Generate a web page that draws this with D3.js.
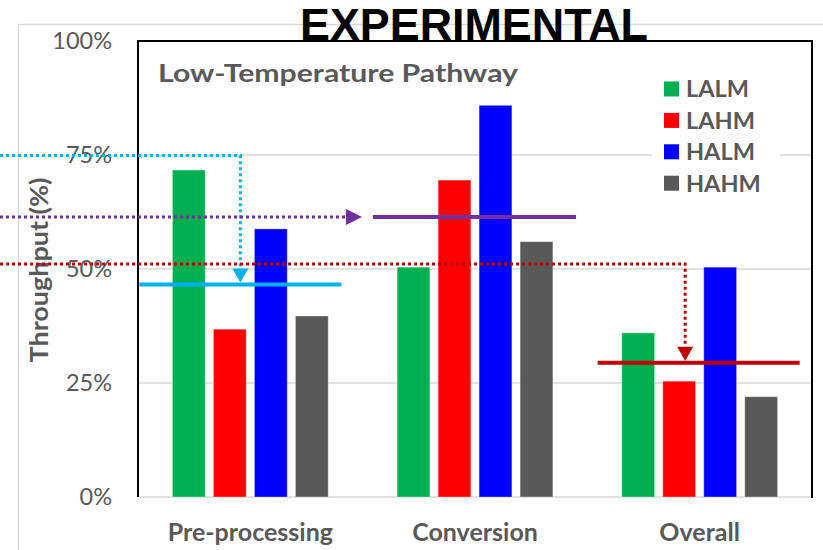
<!DOCTYPE html>
<html>
<head>
<meta charset="utf-8">
<script src="https://cdn.jsdelivr.net/npm/d3@7"></script>
<style>
  html, body { margin: 0; padding: 0; background: #fff; }
  svg { display: block; }
</style>
</head>
<body>
<svg id="chart" width="823" height="550"></svg>
<script>
// Throughput by stage for the low-temperature pathway
const categories = ["Pre-processing", "Conversion", "Overall"];
const seriesNames = ["LALM", "LAHM", "HALM", "HAHM"];
const LALM = [0.717, 0.504, 0.360];
const LAHM = [0.368, 0.695, 0.254];
const HALM = [0.588, 0.859, 0.504];
const HAHM = [0.397, 0.560, 0.220];
const yTicks = [0, 0.25, 0.5, 0.75, 1];

// Target level per stage (solid bar) and the level its arrow starts from
const targetLevels = [0.466, 0.614, 0.2945];
const arrowFrom = [0.749, 0.614, 0.511];

const seriesValues = [LALM, LAHM, HALM, HAHM];
const seriesColors = ["#00B050", "#FF0000", "#0000FF", "#595959"];
const targetColors = ["#00B0F0", "#7030A0", "#C00000"];

const svg = d3.select("#chart");
const plotL = 138, plotR = 812, plotT = 41, plotB = 497;
const grey = "#595959";
const font = "Lato, 'Open Sans', sans-serif";

const x = d3.scaleBand().domain(categories).range([plotL, plotR])
  .paddingInner(0.27).paddingOuter(0.135);
const xs = d3.scaleBand().domain(seriesNames).range([0, x.bandwidth()])
  .paddingInner(0.2).paddingOuter(0.1);
const y = d3.scaleLinear().domain([0, 1]).range([plotB, plotT]);

// outer chart-area border
svg.append("path")
  .attr("d", `M18.5,550 V24.5 H823`)
  .attr("fill", "none").attr("stroke", "#d9d9d9").attr("stroke-width", 1.5);

// gridlines
svg.append("g").selectAll("line").data(yTicks).join("line")
  .attr("x1", plotL).attr("x2", plotR)
  .attr("y1", d => y(d)).attr("y2", d => y(d))
  .attr("stroke", "#d9d9d9").attr("stroke-width", 1.5);

// y axis labels
const yAxis = d3.axisLeft(y).tickValues(yTicks).tickSize(0).tickPadding(26)
  .tickFormat(d3.format(".0%"));
const gy = svg.append("g").attr("transform", `translate(${plotL},0)`).call(yAxis);
gy.select(".domain").remove();
gy.selectAll("text").attr("font-family", font).attr("font-size", 23.5)
  .attr("fill", grey);

// y axis title
svg.append("text")
  .attr("transform", "translate(48,270) rotate(-90)")
  .attr("text-anchor", "middle")
  .attr("font-family", font).attr("font-weight", "bold").attr("font-size", 25)
  .attr("textLength", 185).attr("lengthAdjust", "spacingAndGlyphs")
  .attr("fill", grey).text("Throughput (%)");

// category labels
const xAxis = d3.axisBottom(x).tickSize(0).tickPadding(26);
const gx = svg.append("g").attr("transform", `translate(0,${plotB})`).call(xAxis);
gx.select(".domain").remove();
gx.selectAll("text").attr("font-family", font).attr("font-weight", "bold")
  .attr("font-size", 25).attr("fill", grey);

// bars
const barData = [];
seriesNames.forEach((s, si) => categories.forEach((c, ci) => {
  barData.push({ cat: c, series: s, value: seriesValues[si][ci], color: seriesColors[si] });
}));
svg.append("g").selectAll("rect").data(barData).join("rect")
  .attr("x", d => x(d.cat) + xs(d.series))
  .attr("width", xs.bandwidth())
  .attr("y", d => y(d.value))
  .attr("height", d => y(0) - y(d.value))
  .attr("fill", d => d.color)
  .attr("stroke", "rgba(255,255,255,0.35)").attr("stroke-width", 1);

// plot frame (left, top, right)
svg.append("path")
  .attr("d", `M${plotL},${plotB} V${plotT} H${plotR} V${plotB + 1}`)
  .attr("fill", "none").attr("stroke", "#000").attr("stroke-width", 2);

// white backdrop behind the legend
svg.append("rect").attr("x", 652).attr("y", 70).attr("width", 128).attr("height", 130)
  .attr("fill", "#fff");

// target levels: a solid bar across each stage
const spans = [[-29, 173], [-20, 183], [-20, 182]];
const gT = svg.append("g");
categories.forEach((c, i) => {
  const x0 = x(c) + spans[i][0], x1 = x(c) + spans[i][1];
  gT.append("line")
    .attr("x1", x0).attr("x2", x1)
    .attr("y1", y(targetLevels[i])).attr("y2", y(targetLevels[i]))
    .attr("stroke", targetColors[i]).attr("stroke-width", 4);
});

// dotted arrows leading into each target
function dotted(d, color) {
  gT.append("path").attr("d", d).attr("stroke", color)
    .attr("stroke-width", 3).attr("stroke-dasharray", "3,3").attr("fill", "none");
}
// Pre-processing: across from 75% then down
{
  const bx = x(categories[0]) + 72, ya = y(arrowFrom[0]), tip = y(targetLevels[0]) - 2;
  dotted(`M0,${ya} H${bx} V${tip - 14}`, targetColors[0]);
  gT.append("path").attr("d", `M${bx - 8},${tip - 14} L${bx + 8},${tip - 14} L${bx},${tip} Z`)
    .attr("fill", targetColors[0]);
}
// Conversion: straight across
{
  const ya = y(arrowFrom[1]), tip = x(categories[1]) - 31;
  dotted(`M0,${ya} H${tip - 16}`, targetColors[1]);
  gT.append("path").attr("d", `M${tip - 16},${ya - 8} L${tip - 16},${ya + 8} L${tip},${ya} Z`)
    .attr("fill", targetColors[1]);
}
// Overall: across from 51% then down
{
  const bx = x(categories[2]) + 67.5, ya = y(arrowFrom[2]), tip = y(targetLevels[2]) - 2;
  dotted(`M0,${ya} H${bx} V${tip - 14}`, targetColors[2]);
  gT.append("path").attr("d", `M${bx - 8},${tip - 14} L${bx + 8},${tip - 14} L${bx},${tip} Z`)
    .attr("fill", targetColors[2]);
}

// legend
const lg = svg.append("g").attr("transform", "translate(664,89)");
const item = lg.selectAll("g").data(seriesNames).join("g")
  .attr("transform", (d, i) => `translate(0,${i * 31.4})`);
item.append("rect").attr("x", 0).attr("y", -7.5).attr("width", 15).attr("height", 15)
  .attr("fill", (d, i) => seriesColors[i]);
item.append("text").attr("x", 22).attr("y", 0).attr("dy", "0.36em")
  .attr("font-family", font).attr("font-weight", "bold").attr("font-size", 23.5)
  .attr("fill", grey).text(d => d);

// chart title
svg.append("text").attr("x", 158).attr("y", 82)
  .attr("font-family", font).attr("font-weight", "bold").attr("font-size", 25.5)
  .attr("textLength", 360).attr("lengthAdjust", "spacingAndGlyphs")
  .attr("fill", grey).text("Low-Temperature Pathway");

// stamp above the frame
svg.append("text").attr("x", 300).attr("y", 40)
  .attr("font-family", "'Liberation Sans', Arial, sans-serif").attr("font-weight", "bold")
  .attr("font-size", 44).attr("textLength", 348).attr("lengthAdjust", "spacingAndGlyphs")
  .attr("fill", "#000").text("EXPERIMENTAL");
</script>
</body>
</html>
